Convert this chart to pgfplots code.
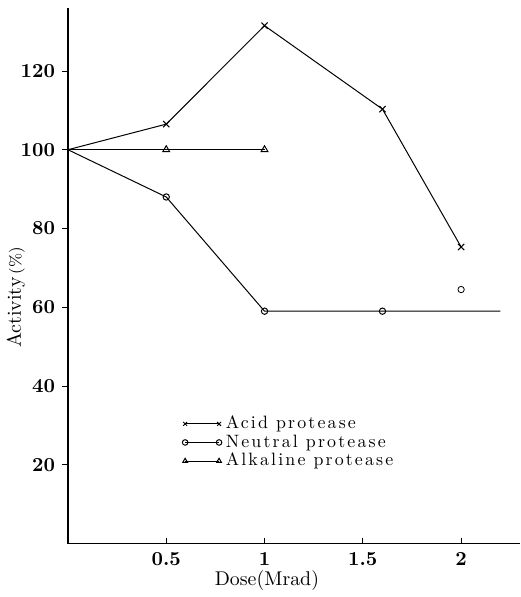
\documentclass[border=0pt]{standalone}
\usepackage{fontspec}
\newfontfamily\legfont{lmroman10-regular.otf}[LetterSpace=12]
\usepackage{pgfplots}
\pgfplotsset{compat=1.18}
\begin{document}
\begin{tikzpicture}
	\begin{axis}[
	scale only axis,
	width=227.5pt, height=269.5pt,
	xmin=0, xmax=2.3,
	ymin=0, ymax=136,
	axis lines=left,
	axis line style={-, line width=0.7pt},
	xtick={0.5,1,1.5,2},
	ytick={20,40,60,80,100,120},
	xticklabels={0.5,1,1.5,2},
	tick style={black, line width=0.4pt},
	major tick length=3pt,
	xtick align=inside,
	ytick align=outside,
	/pgf/number format/assume math mode=true,
	ticklabel style={font=\bfseries},
	xticklabel style={yshift=-1pt},
	xlabel={Dose(Mrad)},
	ylabel={Activity\,{\footnotesize(\%)}},
	xlabel style={at={(ticklabel cs:0.44)}, anchor=north, yshift=4.5pt},
	ylabel style={at={(ticklabel cs:0.46)}, yshift=-9pt},
	clip=false,
	legend style={draw=none, fill=none, at={(axis cs:0.58,33.5)}, anchor=north west,
		font=\legfont\small, row sep=-2.5pt, inner sep=0pt},
	legend cell align=left,
	legend image code/.code={\draw[#1, mark indices={1,2}, mark size=1.4pt] plot coordinates {(0cm,0cm)(0.6cm,0cm)};},
	]
	
	\addplot[black, line width=0.5pt, mark=x, mark size=2.2pt, mark indices={2,3,4,5}]
	coordinates{
		(0,   100)
		(0.5, 106.5)
		(1,   131.5)
		(1.6, 110.3)
		(2,   75.3)
	};
	\addlegendentry{Acid protease}
	
	\addplot[black, line width=0.5pt, mark=o, mark size=1.6pt, mark indices={2,3,4}]
	coordinates{
		(0,   100)
		(0.5, 88)
		(1,   59)
		(1.6, 59)
		(2.2, 59)
	};
	\addlegendentry{Neutral protease}
	
	\addplot[black, line width=0.5pt, mark=triangle, mark size=2pt, mark indices={2,3}]
	coordinates{
		(0,   100)
		(0.5, 100)
		(1,   100)
	};
	\addlegendentry{Alkaline protease}
	
	\addplot[black, only marks, mark=o, mark size=1.6pt, forget plot]
	coordinates{
		(2, 64.5)
	};
	
	% room above the axis, as in the scan
	\path (rel axis cs:0,1) -- ++(0,4pt);
	\end{axis}
\end{tikzpicture}
\end{document}
